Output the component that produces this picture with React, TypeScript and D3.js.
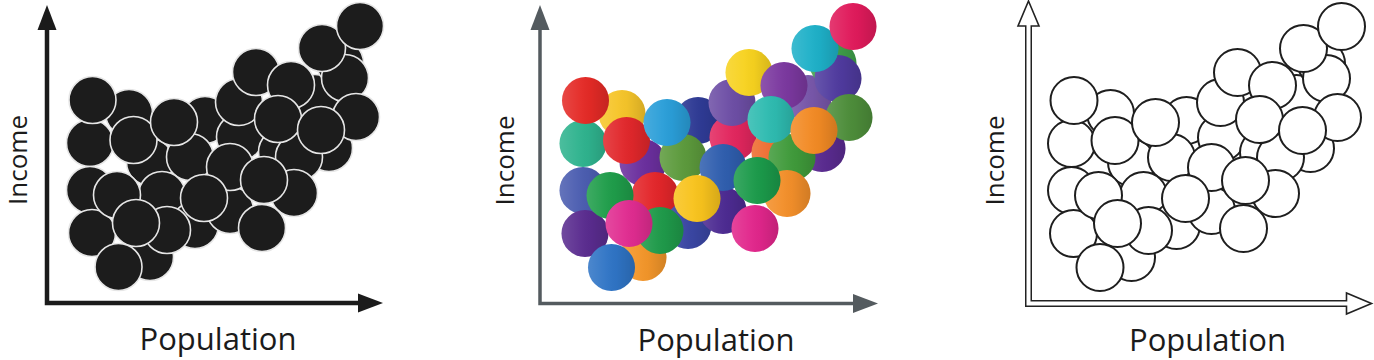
import React from 'react';
import * as d3 from 'd3';

// circle centres in population / income units, drawn back to front
const circleX = [
  82, 158, 103, 143, 115, 103, 148, 120, 183, 193, 235, 282, 268, 293, 252,
  43, 43, 45, 247, 192, 298, 309,
  45.5, 86.5, 127, 70, 89, 71.5, 183, 157, 217, 215, 209, 244, 231, 275, 313, 274,
];
const circleY = [
  190, 183, 141, 146, 108, 46, 78, 73, 93, 166, 151, 155, 205, 240, 146,
  160, 113, 70, 110, 201, 225, 186,
  203, 163, 181, 108, 80, 36, 136, 105, 123, 75, 231, 218, 184, 255, 277, 173,
];
const circleColor = [
  '#f6c52a', '#2e3a94', '#6b2f9e', '#5c9a3c', '#e3262a', '#f3962a', '#3a46a3', '#1f9a4a',
  '#4d2b92', '#e2265e', '#ee6a2d', '#5a2b90', '#7857aa', '#3fa04a', '#3f9a3a',
  '#2fb38e', '#4b5db0', '#5a2c8f', '#f38f2a', '#6d4ea5', '#4f3a9e', '#4d8d3a',
  '#e42a26', '#e1272b', '#2a9ed8', '#1f9d4a', '#e02c90', '#2f74c5', '#2f5eae', '#f8c31d',
  '#1b9a4a', '#e1268b', '#f7d21f', '#7b389f', '#2ebbb0', '#1eb0c8', '#e01a5b', '#f28a24',
];

const xLabel = 'Population';
const yLabel = 'Income';

type Panel = {
  ox: number;
  oy: number;
  xTip: number;
  yTip: number;
  labelX: number;
  incomeX: number;
  kind: 'black' | 'color' | 'outline';
};

const panels: Panel[] = [
  { ox: 47, oy: 303, xTip: 336, yTip: 298, labelX: 171, incomeX: -20, kind: 'black' },
  { ox: 540, oy: 303.5, xTip: 338, yTip: 298.5, labelX: 176, incomeX: -26, kind: 'color' },
  { ox: 1028.5, oy: 303.5, xTip: 343, yTip: 302.5, labelX: 179, incomeX: -25, kind: 'outline' },
];

const R = 23.5;

function ScatterPanel({ p }: { p: Panel }) {
  const x = d3.scaleLinear().domain([0, 340]).range([0, 340]);
  const y = d3.scaleLinear().domain([0, 300]).range([0, -300]);
  const head = 25;
  const hw = p.kind === 'outline' ? 10.5 : 9.5;
  const axisColor = p.kind === 'color' ? '#545b5f' : '#1b1b1b';
  const xb = p.xTip - head;
  const yb = p.yTip - head;
  const shaft = `M0,${-yb} L0,0 L${xb},0`;
  const upHead = `M0,${-p.yTip} L${hw},${-yb} L${-hw},${-yb} Z`;
  const rightHead = `M${p.xTip},0 L${xb},${-hw} L${xb},${hw} Z`;

  return (
    <g transform={`translate(${p.ox},${p.oy})`}>
      {p.kind === 'outline' ? (
        <g>
          <path d={shaft} fill="none" stroke="#222" strokeWidth={7} strokeLinejoin="miter" />
          <path d={upHead} fill="#fff" stroke="#222" strokeWidth={1.6} strokeLinejoin="miter" />
          <path d={rightHead} fill="#fff" stroke="#222" strokeWidth={1.6} strokeLinejoin="miter" />
          <path d={`M0,${-yb - 2} L0,0 L${xb + 2},0`} fill="none" stroke="#fff" strokeWidth={4} strokeLinejoin="miter" />
        </g>
      ) : (
        <g fill={axisColor}>
          <path d={shaft} fill="none" stroke={axisColor} strokeWidth={p.kind === 'black' ? 4.5 : 3.5} strokeLinejoin="miter" />
          <path d={upHead} />
          <path d={rightHead} />
        </g>
      )}
      {circleX.map((cx, i) => (
        <g key={i}>
          <circle
            cx={x(cx)}
            cy={y(circleY[i])}
            r={R}
            fill={p.kind === 'black' ? '#1c1c1c' : p.kind === 'color' ? circleColor[i] : '#fff'}
            stroke={p.kind === 'black' ? '#e6e6e6' : p.kind === 'outline' ? '#1e1e1e' : 'none'}
            strokeWidth={p.kind === 'black' ? 1.6 : 2}
          />
          {p.kind === 'color' && (
            <circle cx={x(cx)} cy={y(circleY[i])} r={R} fill="url(#shade)" />
          )}
        </g>
      ))}
      <text
        x={p.labelX}
        y={47}
        textAnchor="middle"
        fontFamily="'Open Sans', sans-serif"
        fontSize={31}
        fill="#1b1b1b"
      >
        {xLabel}
      </text>
      <text
        transform={`translate(${p.incomeX},${-143}) rotate(-90)`}
        textAnchor="middle"
        fontFamily="'Open Sans', sans-serif"
        fontSize={26}
        fill="#1b1b1b"
      >
        {yLabel}
      </text>
    </g>
  );
}

export default function App() {
  return (
    <div style={{ position: 'absolute', left: 0, top: 0 }}>
      <svg width={1374} height={360} style={{ display: 'block', background: '#fff' }}>
        <defs>
          <linearGradient id="shade" x1="0" x2="1" y1="0" y2="0">
            <stop offset="0%" stopColor="#fff" stopOpacity={0.14} />
            <stop offset="40%" stopColor="#fff" stopOpacity={0.03} />
            <stop offset="60%" stopColor="#000" stopOpacity={0.02} />
            <stop offset="100%" stopColor="#000" stopOpacity={0.14} />
          </linearGradient>
        </defs>
        {panels.map((p, i) => (
          <ScatterPanel key={i} p={p} />
        ))}
      </svg>
    </div>
  );
}
